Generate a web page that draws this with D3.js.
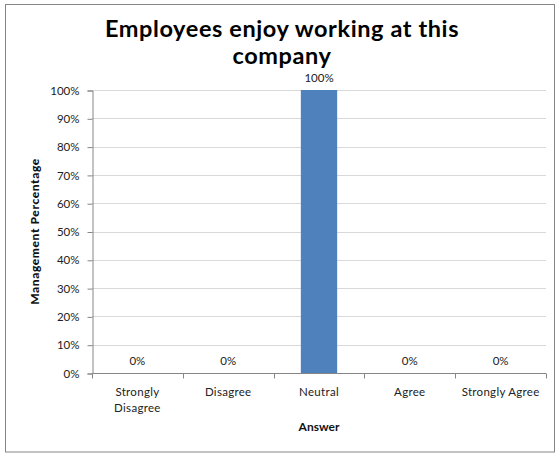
<!DOCTYPE html>
<html>
<head>
<meta charset="utf-8">
<script src="https://cdn.jsdelivr.net/npm/d3@7"></script>
<style>
  html, body { margin: 0; padding: 0; background: #fff; }
  svg { display: block; font-family: Lato, "Open Sans", sans-serif; }
</style>
</head>
<body>
<svg id="chart" width="555" height="453"></svg>
<script>
// Survey answers and share of management responses
const categories = ["Strongly Disagree", "Disagree", "Neutral", "Agree", "Strongly Agree"];
const categoryLines = [["Strongly", "Disagree"], ["Disagree"], ["Neutral"], ["Agree"], ["Strongly Agree"]];
const values = [0, 0, 1, 0, 0];
const yTicks = [0, 0.1, 0.2, 0.3, 0.4, 0.5, 0.6, 0.7, 0.8, 0.9, 1.0];

const svg = d3.select("#chart");
const plot = { left: 92, right: 546, top: 90, bottom: 373 };

// outer chart frame
svg.append("rect")
  .attr("x", 5.5).attr("y", 4.5)
  .attr("width", 549).attr("height", 447.5)
  .attr("fill", "#fff").attr("stroke", "#868686").attr("stroke-width", 1);

const x = d3.scaleBand().domain(categories).range([plot.left, plot.right]).paddingInner(0.6).paddingOuter(0.3);
const xEdge = d3.scaleBand().domain(categories).range([plot.left, plot.right]);
const y = d3.scaleLinear().domain([0, 1]).range([plot.bottom, plot.top]);

// horizontal gridlines
svg.append("g").selectAll("line")
  .data(yTicks.filter(d => d > 0))
  .join("line")
  .attr("x1", plot.left).attr("x2", plot.right)
  .attr("y1", d => Math.round(y(d)) + 0.5).attr("y2", d => Math.round(y(d)) + 0.5)
  .attr("stroke", "#d9d9d9").attr("stroke-width", 1);

// bars
svg.append("g").selectAll("rect")
  .data(values)
  .join("rect")
  .attr("x", (d, i) => x(categories[i]))
  .attr("width", x.bandwidth())
  .attr("y", d => y(d))
  .attr("height", d => y(0) - y(d))
  .attr("fill", "#4f81bd");

// value labels
svg.append("g").selectAll("text")
  .data(values)
  .join("text")
  .attr("x", (d, i) => x(categories[i]) + x.bandwidth() / 2)
  .attr("y", d => y(d) - 8)
  .attr("text-anchor", "middle")
  .attr("font-size", 11.5)
  .attr("fill", "#222")
  .text(d => d3.format(".0%")(d));

// y axis
const yAxis = d3.axisLeft(y).tickValues(yTicks).tickFormat(d3.format(".0%")).tickSize(5).tickPadding(8);
const gy = svg.append("g").attr("transform", `translate(${plot.left + 0.5},0.5)`).call(yAxis);
gy.select(".domain").attr("stroke", "#868686");
gy.selectAll(".tick line").attr("stroke", "#868686");
gy.selectAll(".tick text").attr("font-size", 11.5).attr("fill", "#222").attr("font-family", "Lato, sans-serif");

// x axis with ticks at category boundaries
const gx = svg.append("g").attr("transform", `translate(0,${plot.bottom + 0.5})`);
gx.append("line").attr("x1", plot.left).attr("x2", plot.right).attr("stroke", "#868686");
gx.selectAll("line.tk")
  .data(categories.map(c => xEdge(c)).concat([plot.right]))
  .join("line").attr("class", "tk")
  .attr("x1", d => Math.round(d) + 0.5).attr("x2", d => Math.round(d) + 0.5)
  .attr("y1", 0).attr("y2", 5)
  .attr("stroke", "#868686");

const xl = gx.selectAll("text.cat")
  .data(categoryLines)
  .join("text").attr("class", "cat")
  .attr("text-anchor", "middle")
  .attr("font-size", 11.5)
  .attr("fill", "#222")
  .attr("letter-spacing", 0.3)
  .attr("transform", (d, i) => `translate(${xEdge(categories[i]) + xEdge.bandwidth() / 2},22)`);
xl.selectAll("tspan")
  .data(d => d)
  .join("tspan")
  .attr("x", 0)
  .attr("dy", (d, i) => i === 0 ? 0 : 16)
  .text(d => d);

// axis titles
svg.append("text")
  .attr("x", (plot.left + plot.right) / 2).attr("y", 431)
  .attr("text-anchor", "middle").attr("font-size", 12).attr("font-weight", "bold").attr("fill", "#111")
  .text("Answer");

svg.append("text")
  .attr("transform", `translate(39,${(plot.top + plot.bottom) / 2}) rotate(-90)`)
  .attr("text-anchor", "middle").attr("font-size", 12).attr("font-weight", "900")
  .attr("letter-spacing", 0.6).attr("fill", "#111")
  .text("Management Percentage");

// chart title
const title = svg.append("text")
  .attr("text-anchor", "middle").attr("font-size", 23.5).attr("font-weight", "bold")
  .attr("letter-spacing", 0.6).attr("fill", "#000");
title.append("tspan").attr("x", 282).attr("y", 37).text("Employees enjoy working at this");
title.append("tspan").attr("x", 282).attr("y", 64).text("company");
</script>
</body>
</html>
